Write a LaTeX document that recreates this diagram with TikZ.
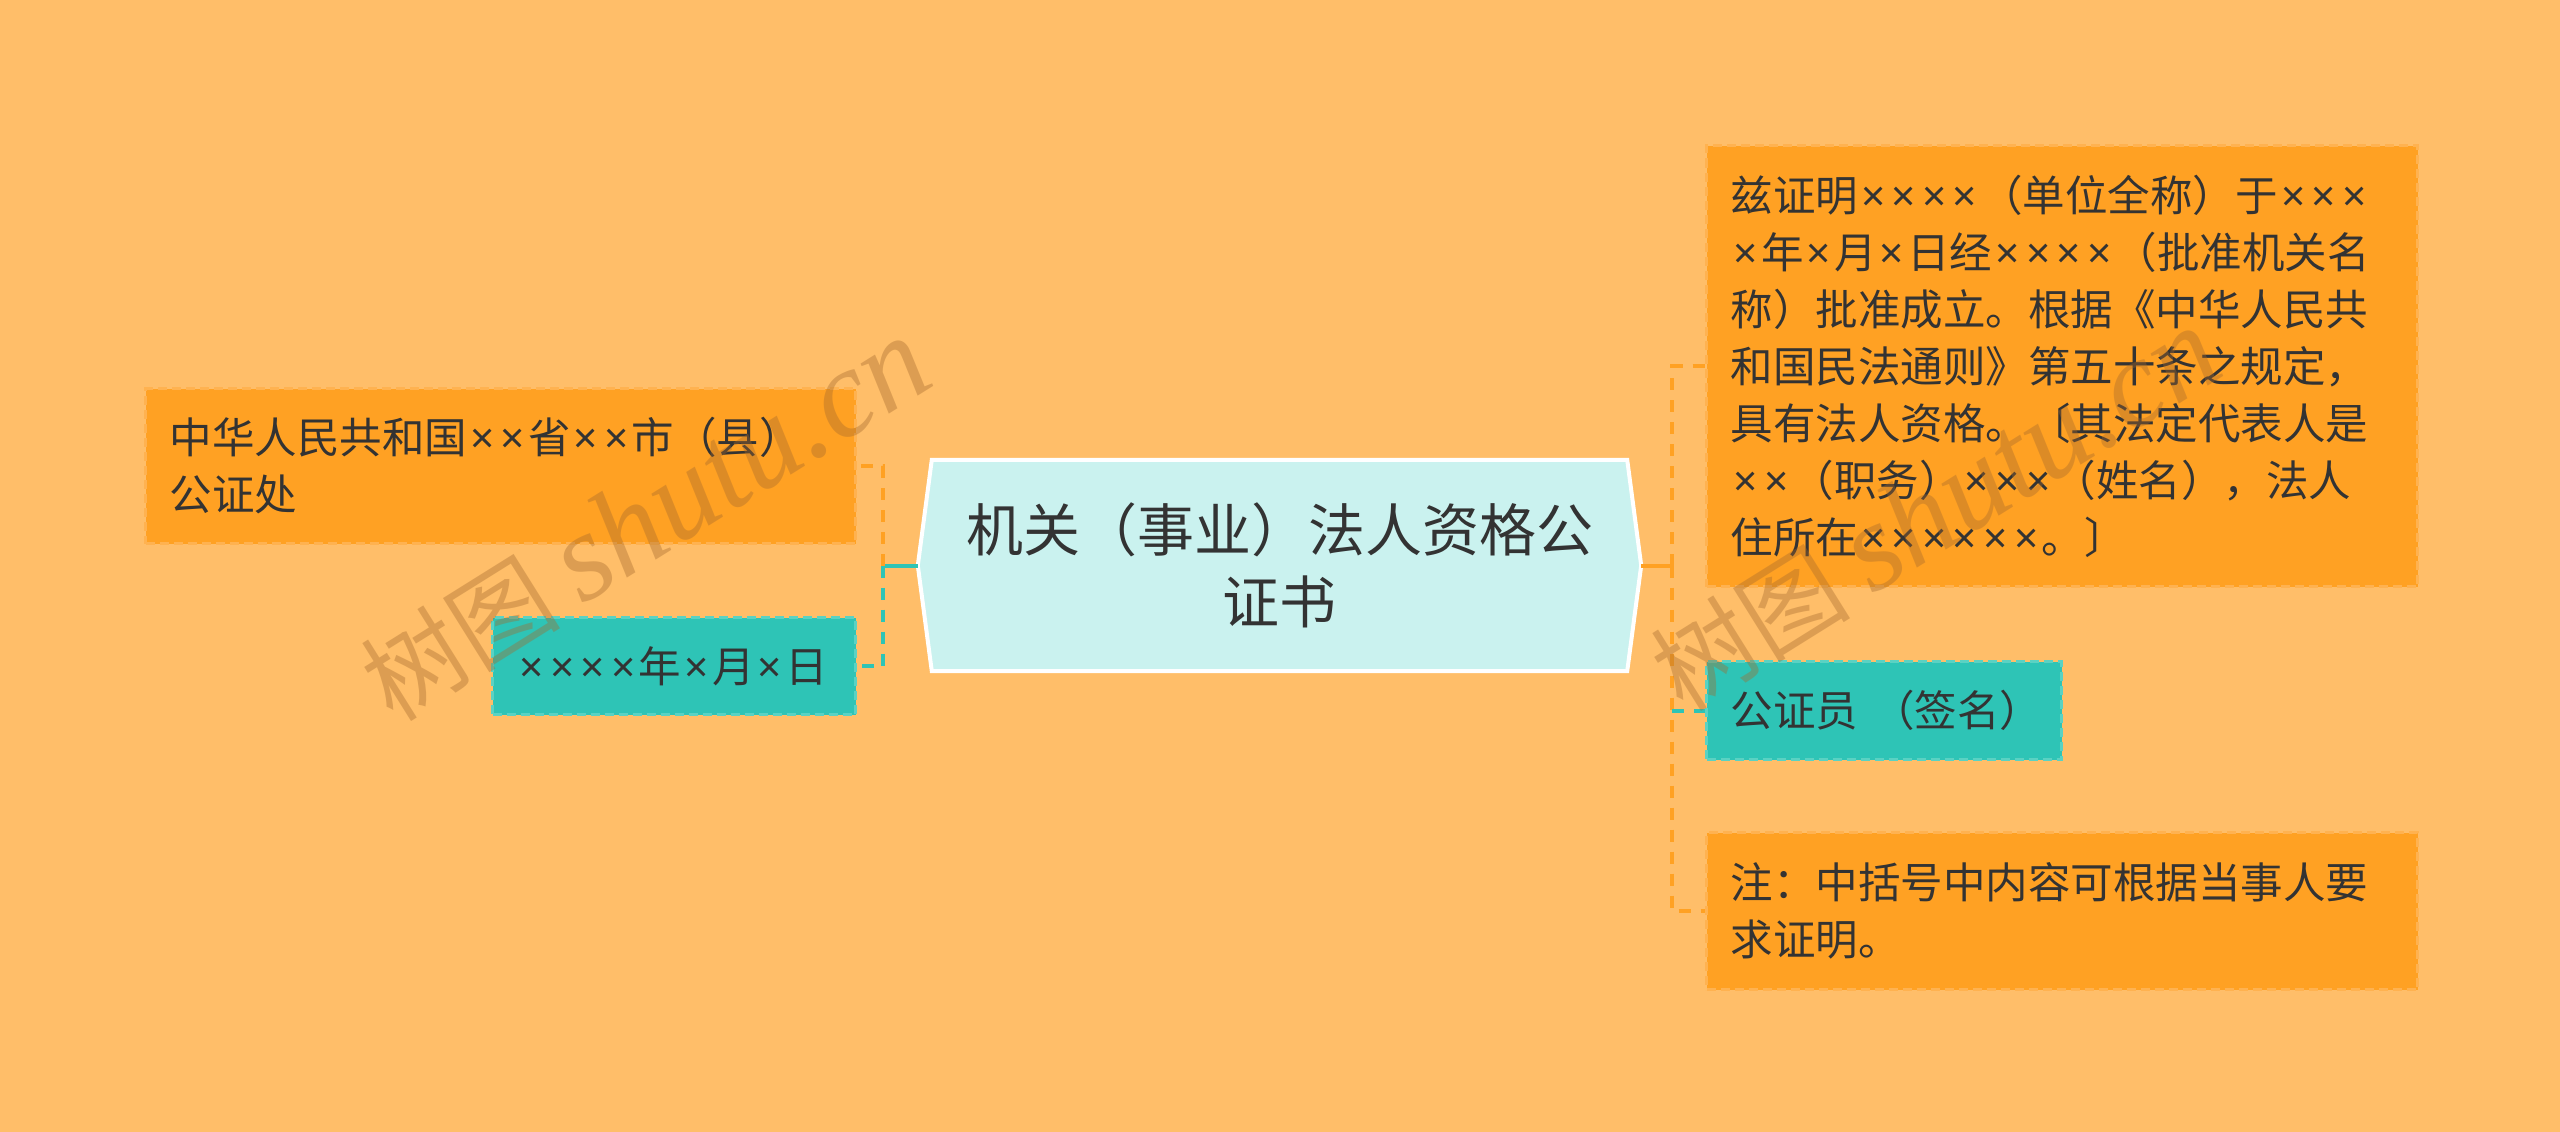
\documentclass[tikz,border=0pt]{standalone}
\usepackage{fontspec}
\setmainfont{Noto Sans CJK SC}
\newfontfamily\wmserif{Liberation Serif}
\newfontfamily\latf{Noto Sans}
\newcommand\X{\makebox[0.72em]{\latf ×}}
\usetikzlibrary{backgrounds,calc}
\definecolor{bgc}{RGB}{255,190,105}
\definecolor{obg}{RGB}{255,161,35}
\definecolor{oedge}{RGB}{255,178,80}
\definecolor{tbg}{RGB}{46,196,182}
\definecolor{tedge}{RGB}{90,210,195}
\definecolor{cfill}{RGB}{202,242,239}
\definecolor{txt}{RGB}{51,51,51}
\definecolor{wmc}{RGB}{165,105,45}
\tikzset{
  box/.style={rectangle, inner xsep=24pt, inner ysep=0pt, text=txt,
    font=\fontsize{42.5}{57}\selectfont, align=left, anchor=north west,
    line width=3pt, dash pattern=on 9pt off 5pt},
  obox/.style={box, fill=obg, draw=oedge},
  tbox/.style={box, fill=tbg, draw=tedge},
  oline/.style={draw=obg, line width=4pt},
  tline/.style={draw=tbg, line width=4pt},
  odash/.style={oline, dash pattern=on 12pt off 10pt},
  tdash/.style={tline, dash pattern=on 12pt off 10pt},
  wm/.style={text=wmc, opacity=0.38, font=\fontsize{100}{100}\selectfont, inner sep=0pt}
}
\begin{document}
\begin{tikzpicture}[x=1pt,y=-1pt]
\begin{scope}[on background layer]
\fill[bgc] (0,0) rectangle (2560,1132);
\end{scope}
\useasboundingbox (0,0) rectangle (2560,1132);

% central node
\node[rectangle, minimum width=723pt, minimum height=211pt, inner sep=0pt,
  text=txt, font=\fontsize{57}{72}\selectfont, align=center, text width=700pt]
  (c) at (1279.5,565.5) {机关（事业）法人资格公\\证书};
\begin{scope}[on background layer]
\draw[fill=cfill, draw=white, line width=4pt, line join=miter]
  (c.west) -- ($(c.north west)+(14,0)$) -- ($(c.north east)+(-14,0)$)
  -- (c.east) -- ($(c.south east)+(-14,0)$) -- ($(c.south west)+(14,0)$) -- cycle;
\end{scope}

% left nodes
\node[obox, text width=662pt, minimum height=155pt] (l1) at (144,387)
  {中华人民共和国\X\X 省\X\X 市（县）\\公证处};
\node[tbox, text width=315pt, minimum height=97pt] (l2) at (491,616)
  {\X\X\X\X 年\X 月\X 日};

% right nodes
\node[obox, text width=663pt, minimum height=441pt] (r1) at (1705,144)
  {兹证明\X\X\X\X（单位全称）于\X\X\X\\\X 年\X 月\X 日经\X\X\X\X（批准机关名\\称）批准成立。根据《中华人民共\\和国民法通则》第五十条之规定，\\具有法人资格。〔其法定代表人是\\\X\X（职务）\X\X\X（姓名），法人\\住所在\X\X\X\X\X\X。〕};
\node[tbox, text width=307pt, minimum height=98pt] (r2) at (1705,660)
  {公证员~（签名）};
\node[obox, text width=663pt, minimum height=157pt] (r3) at (1705,831)
  {注：中括号中内容可根据当事人要\\求证明。};

% connectors left
\coordinate (lj) at (883,565.5);
\draw[tline] (c.west) -- (lj);
\draw[odash] (lj) |- (l1.east);
\draw[tdash] (lj) |- (l2.east);

% connectors right
\coordinate (rj) at (1672,565.5);
\draw[oline] (c.east) -- (rj);
\draw[odash] (rj) |- (r1.west);
\draw[odash] (rj) |- (r3.west);
\draw[tdash] (rj |- r2.west) -- (r2.west);

% watermarks
\node[wm, rotate=32] (wm1) at (645,520) {树图 {\wmserif\itshape\fontsize{125}{125}\selectfont shutu.cn}};
\node[wm, rotate=32] (wm2) at (1935,510) {树图 {\wmserif\itshape\fontsize{125}{125}\selectfont shutu.cn}};
\end{tikzpicture}
\end{document}
